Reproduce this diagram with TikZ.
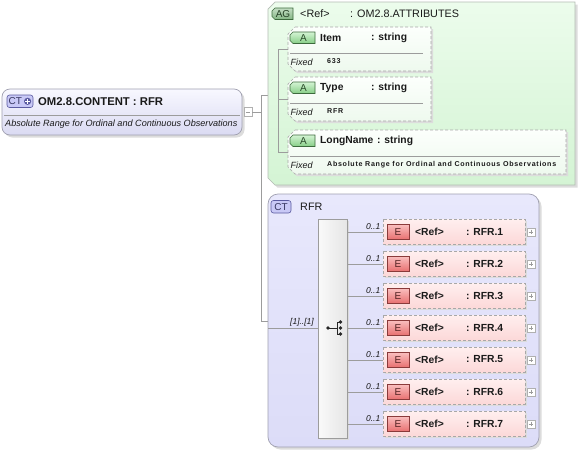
\documentclass[tikz,border=0pt]{standalone}
\usepackage{fontspec}
\setmainfont{Liberation Sans}
\newfontfamily\spaced[LetterSpace=10]{Liberation Sans}
\usetikzlibrary{calc}
\definecolor{lineC}{HTML}{9C9C9C}
\definecolor{ctTop}{HTML}{F8F8FF}
\definecolor{ctBot}{HTML}{DADAF2}
\definecolor{ctBorder}{HTML}{A0A0B0}
\definecolor{agTop}{HTML}{ECFCEC}
\definecolor{agBot}{HTML}{D4F4D4}
\definecolor{agBorder}{HTML}{B4BCB4}
\definecolor{shadowC}{HTML}{DCDCDC}
\definecolor{attrTop}{HTML}{FCFFFC}
\definecolor{attrBot}{HTML}{EEF9EE}
\definecolor{dashC}{HTML}{A8A8A8}
\definecolor{aTop}{HTML}{D4F4D4}
\definecolor{aBot}{HTML}{86CE86}
\definecolor{aBorder}{HTML}{3C6A3C}
\definecolor{eTop}{HTML}{FFEFEF}
\definecolor{eBot}{HTML}{FCD8D8}
\definecolor{etTop}{HTML}{FAC0C0}
\definecolor{etBot}{HTML}{E87272}
\definecolor{etBorder}{HTML}{8A3A3A}
\definecolor{tagCT}{HTML}{C8C8F6}
\definecolor{tagCTb}{HTML}{5A5AA0}
\definecolor{rfrTop}{HTML}{E8E8FC}
\definecolor{rfrBot}{HTML}{DCDCF8}
\definecolor{txtC}{HTML}{1A1A1A}
\tikzset{
  conn/.style={draw=lineC, line width=0.6pt},
  tb/.style={anchor=west, inner sep=0pt, text=txtC, font=\bfseries\fontsize{10.3}{12}\selectfont},
  tr/.style={anchor=west, inner sep=0pt, text=txtC, font=\fontsize{10.8}{12}\selectfont},
  ti/.style={anchor=west, inner sep=0pt, text=txtC, font=\itshape\fontsize{9}{10}\selectfont},
  tsmall/.style={anchor=west, inner sep=0pt, text=txtC, font=\spaced\bfseries\fontsize{7.1}{8}\selectfont},
  tagtxt/.style={inner sep=0pt, font=\fontsize{10}{11}\selectfont},
  mlt/.style={anchor=east, inner sep=0pt, text=txtC, font=\itshape\fontsize{8.5}{9}\selectfont},
  dashbox/.style={draw=dashC, line width=0.6pt, dash pattern=on 3pt off 2pt},
  btn/.style={draw=lineC!80, fill=white, line width=0.5pt},
}
\newcommand\attrbox[7]{% #1 name, #2 top, #3 right, #4 label, #5 x of type, #6 value, #7 sep right
  \fill[shadowC] (297,{#2+2}) -- ({#3+2},{#2+2}) -- ({#3+2},{#2+46}) -- (297,{#2+46}) -- (290,{#2+39}) -- (290,{#2+9}) -- cycle;
  \path[dashbox, top color=attrTop, bottom color=attrBot] (295,#2) -- (#3,#2) -- (#3,{#2+44}) -- (295,{#2+44}) -- (288,{#2+37}) -- (288,{#2+7}) -- cycle;
  \coordinate (#1) at (288,{#2+22});
  \path[draw=aBorder, line width=0.6pt, top color=aTop, bottom color=aBot] (293,{#2+5}) -- (315,{#2+5}) -- (315,{#2+16.5}) -- (293,{#2+16.5}) -- (290,{#2+13.5}) -- (290,{#2+8}) -- cycle;
  \node[tagtxt, text=aBorder!70!black] (#1tag) at (303.5,{#2+11}) {A};
  \node[tb] (#1lbl) at (320,{#2+11}) {#4};
  \node[tb] (#1typ) at (#5,{#2+11}) {: string};
  \draw[draw=lineC, line width=0.6pt] (290,{#2+26.5}) -- (#7,{#2+26.5});
  \node[ti] (#1fx) at (290.5,{#2+35}) {Fixed};
  \node[tsmall] (#1val) at (327,{#2+34.5}) {#6};
}
\begin{document}
\begin{tikzpicture}[x=1pt,y=-1pt]
\useasboundingbox (0,0) rectangle (581,453);
\fill[white] (0,0) rectangle (581,453);

% ---------- left CT box ----------
\fill[shadowC, rounded corners=8pt] (4.5,91.5) rectangle (244.5,137.5);
\path[draw=ctBorder, line width=0.7pt, top color=ctTop, bottom color=ctBot, rounded corners=8pt] (2,89) rectangle (242,135);
\draw[lineC, line width=0.6pt] (4,115) -- (240,115);
\path[draw=tagCTb, line width=0.6pt, fill=tagCT, rounded corners=2.5pt] (7,95) rectangle (33,107.5);
\node[tagtxt, text=tagCTb!60!black] (cttag) at (15.3,101.5) {CT};
\fill[tagCTb] (27.6,101.3) circle (3.6pt);
\draw[white, line width=1pt] (25.4,101.3) -- (29.8,101.3) (27.6,99.1) -- (27.6,103.5);
\node[tb, font=\bfseries\fontsize{11.3}{12}\selectfont] (ctname) at (38,101.5) {OM2.8.CONTENT : RFR};
\node[ti, font=\itshape\fontsize{9.1}{10}\selectfont] (ctdesc) at (5,124.5) {Absolute Range for Ordinal and Continuous Observations};
\node[btn, minimum width=8pt, minimum height=9pt, inner sep=0pt] (minus) at (248,112) {};
\draw[lineC, line width=0.6pt] (245.8,112) -- (250.2,112);

% ---------- connectors from CT ----------
\coordinate (j0) at (261,112);
\coordinate (jtop) at (261,95);
\coordinate (jbot) at (261,321);
\coordinate (agin) at (268,95);
\coordinate (rfrin) at (268,321);
\draw[conn] (minus.east) -- (j0);
\draw[conn] (jtop) -- (jbot);
\draw[conn] (jtop) -- (agin);
\draw[conn] (jbot) -- (rfrin);

% ---------- AG box ----------
\fill[shadowC] (277.5,4.5) -- (577.5,4.5) -- (577.5,187.5) -- (277.5,187.5) -- (270.5,180.5) -- (270.5,11.5) -- cycle;
\path[draw=agBorder, line width=0.7pt, top color=agTop, bottom color=agBot] (275,2) -- (575,2) -- (575,185) -- (275,185) -- (268,178) -- (268,9) -- cycle;
\path[draw=aBorder, line width=0.6pt, top color=aTop!80!gray, bottom color=aBot!70!gray] (275,8) -- (293,8) -- (293,19.5) -- (275,19.5) -- (272,16.5) -- (272,11) -- cycle;
\node[tagtxt, text=aBorder!60!black] (agtag) at (283,14) {AG};
\node[tr] (agref) at (300,14) {<Ref>};
\node[tr] (agname) at (350,14) {: OM2.8.ATTRIBUTES};

\attrbox{item}{27}{431}{Item}{371}{633}{423}
\attrbox{type}{77}{431}{Type}{371}{RFR}{423}
\attrbox{lname}{130}{566}{LongName}{377}{Absolute Range for Ordinal and Continuous Observations}{560}

\coordinate (av1) at (278,49);
\coordinate (av2) at (278,99);
\coordinate (av3) at (278,152);
\draw[conn] (av1) -- (av3);
\draw[conn] (av1) -- (item);
\draw[conn] (av2) -- (type);
\draw[conn] (av3) -- (lname);

% ---------- CT RFR box ----------
\fill[shadowC, rounded corners=10pt] (270.5,196.5) rectangle (541.5,449.5);
\path[draw=ctBorder, line width=0.7pt, top color=rfrTop, bottom color=rfrBot, rounded corners=10pt] (268,194) rectangle (539,447);
\path[draw=tagCTb, line width=0.6pt, fill=tagCT, rounded corners=2.5pt] (271,200.5) rectangle (291,213);
\node[tagtxt, text=tagCTb!60!black] (rfrtag) at (281,207) {CT};
\node[tr] (rfrname) at (300,206.5) {RFR};

% compositor
\fill[shadowC] (320,221) rectangle (349,440);
\path[draw=lineC, line width=0.6pt, left color=white!96!gray, right color=white!80!gray] (318,219) rectangle (347,438);
\node[mlt] (mult) at (314,322) {[1]..[1]};
\coordinate (seqin) at (318,328);
\draw[conn] (268,328) -- (seqin);
% sequence icon
\begin{scope}[black!85]
\fill (328,328) circle (1.9pt);
\draw[line width=0.7pt] (328,328) -- (337,328) (337,322) -- (337,334) (337,322) -- (340,322) (337,334) -- (340,334);
\fill (340.5,322) circle (1.9pt) (340.5,328) circle (1.9pt) (340.5,334) circle (1.9pt);
\end{scope}

% elements
\foreach \i [evaluate=\i as \t using {219+32*(\i-1)}] in {1,...,7} {
  \fill[shadowC] (385,{\t+2}) rectangle (527,{\t+27});
  \path[dashbox, top color=eTop, bottom color=eBot] (383,\t) rectangle (525,{\t+25});
  \coordinate (e\i) at (383,{\t+13});
  \coordinate (s\i) at (347,{\t+13});
  \draw[conn] (s\i) -- (e\i);
  \node[mlt] (m\i) at (380.5,{\t+7.5}) {0..1};
  \path[draw=etBorder, line width=0.6pt, top color=etTop, bottom color=etBot] (387,{\t+5}) rectangle (409,{\t+20});
  \node[tagtxt, text=etBorder!60!black] (et\i) at (398,{\t+12.7}) {E};
  \node[tb] (eref\i) at (415,{\t+12.5}) {<Ref>};
  \node[tb] (ename\i) at (466,{\t+12.5}) {: RFR.\i};
  \node[btn, minimum width=8pt, minimum height=8pt, inner sep=0pt] (p\i) at (531,{\t+13}) {};
  \draw[lineC, line width=0.5pt] (528.6,{\t+13}) -- (533.4,{\t+13}) (531,{\t+10.6}) -- (531,{\t+15.4});
}
\end{tikzpicture}
\end{document}
